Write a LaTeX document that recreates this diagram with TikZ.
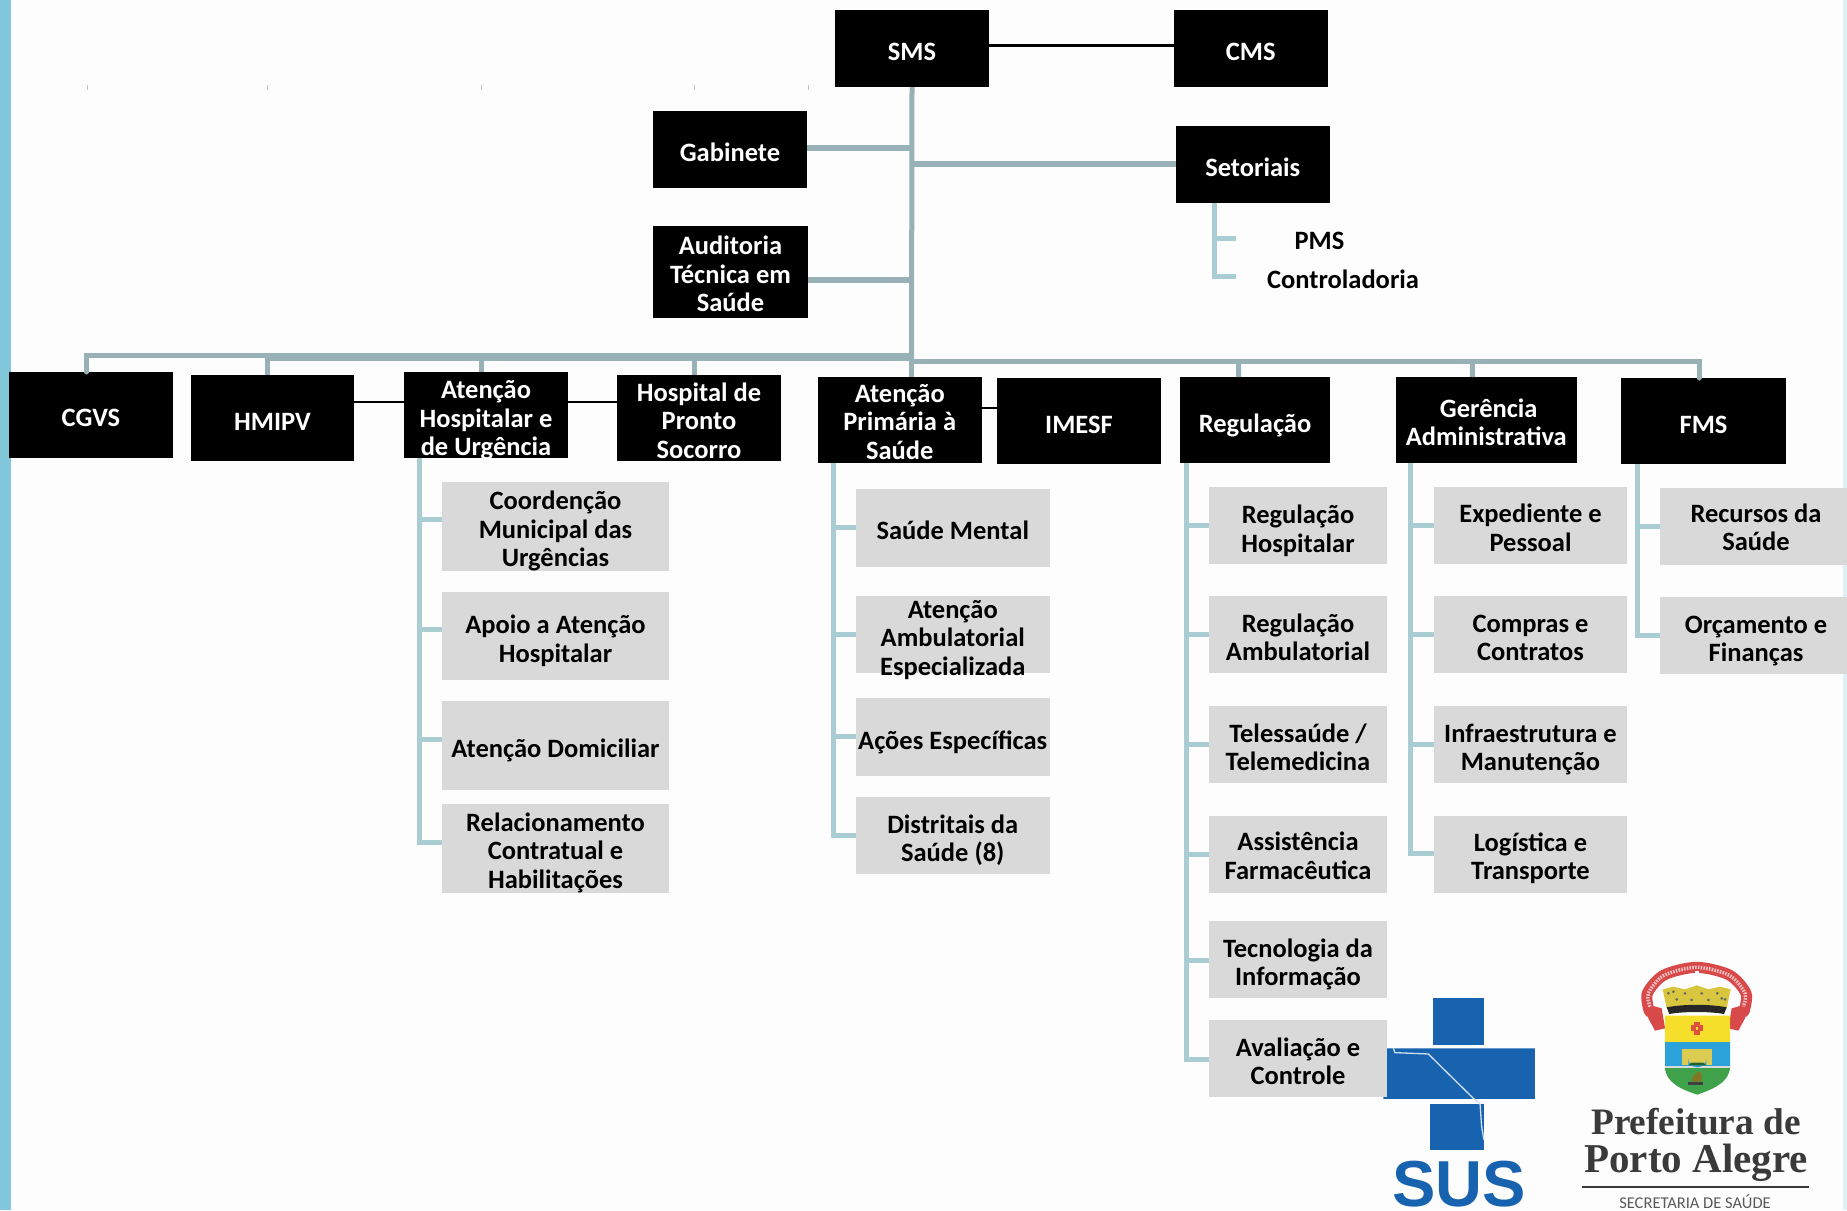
\documentclass[tikz,border=0pt]{standalone}
\usepackage{fontspec}
\setmainfont{Carlito}
\newfontfamily\logoserif{Liberation Serif}
\newfontfamily\logosans{Liberation Sans}
\definecolor{bgc}{HTML}{FDFDFD}
\definecolor{stripec}{HTML}{7FC7D9}
\definecolor{edgec}{HTML}{DDF0F3}
\definecolor{trunkc}{HTML}{97B1B6}
\definecolor{branchc}{HTML}{A9CDD3}
\definecolor{greyc}{HTML}{D9D9D9}
\definecolor{susc}{HTML}{1763B0}
\definecolor{crestred}{HTML}{D8494A}
\definecolor{crestgold}{HTML}{D9C63F}
\definecolor{crestyellow}{HTML}{F6DF2A}
\definecolor{crestblue}{HTML}{2BA3DA}
\definecolor{crestgreen}{HTML}{3FA24B}
\definecolor{logotext}{HTML}{3A3A3A}
\tikzset{
  boxbase/.style={rectangle,inner sep=0pt,outer sep=0pt,align=center,font=\fontsize{26.5}{28.5}\selectfont\bfseries},
  blackbox/.style={boxbase,fill=black,text=white},
  greybox/.style={boxbase,fill=greyc,text=black},
  plainlabel/.style={rectangle,inner sep=0pt,align=center,font=\fontsize{26.5}{28.5}\selectfont\bfseries,text=black},
  thinlink/.style={draw=black,line width=2.4pt},
  trunk/.style={draw=trunkc,line width=5pt},
  sidebar/.style={draw=trunkc,line width=6pt},
  heavybus/.style={draw=trunkc,line width=8pt},
  branch/.style={draw=branchc,line width=5pt},
}
% [text drop], style, name, x0, y0, x1, y1, text
\newcommand{\bx}[8][6]{\node[#2,minimum width={(#6-#4)*1pt},minimum height={(#7-#5)*1pt}] (#3) at ({(#4+#6)/2},{(#5+#7)/2}) {\raisebox{\dimexpr-#1pt-6.6pt\relax}[0pt][0pt]{\begin{tabular}{@{}c@{}}#8\end{tabular}}};}
\begin{document}
\begin{tikzpicture}[x=1pt,y=-1pt]
\useasboundingbox (0,0) rectangle (1847,1210);
\fill[bgc] (0,0) rectangle (1847,1210);
\fill[stripec] (0,0) rectangle (11,1210);
\fill[edgec] (1843,0) rectangle (1847,1210);
% stray ticks
\foreach \tx in {87,267,481,694,808} \draw[trunkc!70,line width=.9pt] (\tx,85) -- (\tx,90);

% SUS logo
\begin{scope}[shift={(1340,930)},x=.3333pt,y=-.3333pt]
  \fill[susc] (280,203) rectangle (432,345);
  \fill[susc] (140,355) -- (585,355) -- (585,507) -- (130,507) -- cycle;
  \fill[susc] (270,522) rectangle (432,660);
  \draw[white!80!susc,line width=1.3pt] (160,355) -- (165,368) -- (265,372) -- (400,505) -- (420,520) -- (425,590) -- (432,630);
  \node[text=susc,inner sep=0pt,font=\logosans\bfseries\fontsize{65}{65}\selectfont] (sus) at (358,762) {SUS};
\end{scope}

% City crest
\begin{scope}[shift={(1620,950)},x=.3333pt,y=-.3333pt]
  \fill[crestred] (72,160) -- (125,175) -- (135,235) -- (105,242) -- (85,205) -- cycle;
  \fill[crestred] (388,160) -- (335,175) -- (325,235) -- (355,242) -- (375,205) -- cycle;
  \draw[crestred,line width=11pt,line cap=round] plot[smooth] coordinates {(88,185) (82,130) (132,75) (230,52) (328,75) (378,130) (372,185)};
  \draw[white!65!crestred,line width=3.5pt,dash pattern=on 1.6pt off 1.2pt] plot[smooth] coordinates {(90,170) (85,130) (132,76) (230,52) (328,76) (375,130) (370,170)};
  \fill[white] (224,62) rectangle (238,112);
  \fill[crestgold] (128,118) -- (160,110) -- (195,118) -- (230,106) -- (265,118) -- (300,110) -- (332,118) -- (320,175) -- (140,175) -- cycle;
  \foreach \dx/\dy in {145/130,170/148,195/130,215/150,245/130,265/150,292/130,315/148,160/125,305/145}
    \fill[black!60] (\dx,\dy) circle[radius=4.5];
  \fill[black!85] (140,172) .. controls (190,162) and (270,162) .. (320,172) -- (312,192) .. controls (270,184) and (190,184) .. (148,192) -- cycle;
  \begin{scope}
    \clip (135,197) -- (330,197) -- (330,350) .. controls (330,400) and (270,420) .. (232,434) .. controls (190,420) and (135,400) .. (135,350) -- cycle;
    \fill[crestyellow] (130,190) rectangle (335,276);
    \fill[crestblue] (130,276) rectangle (335,350);
    \fill[crestgreen] (130,350) rectangle (335,440);
    \fill[white!85!black] (130,347) rectangle (335,353);
  \end{scope}
  \fill[crestred!85!orange] (223,216) rectangle (240,254);
  \fill[crestred!85!orange] (212,226) rectangle (250,244);
  \fill[crestyellow] (228,231) rectangle (235,239);
  \fill[crestgold!90!white] (186,296) rectangle (276,346);
  \fill[crestblue] (205,346) -- (205,325) arc[start angle=180,end angle=0,radius=27] -- (259,346) -- cycle;
  \fill[crestgreen!60!black] (205,346) -- (259,346) -- (250,338) -- (214,338) -- cycle;
  \fill[crestgold!60!black] (215,395) .. controls (215,375) and (230,368) .. (242,364) .. controls (246,375) and (246,385) .. (245,395) -- cycle;
  \fill[black!75] (205,395) rectangle (250,404);
\end{scope}
\node[inner sep=0pt,text=logotext,font=\logoserif\bfseries\fontsize{37.3}{37}\selectfont] (pref1) at (1696,1122) {Prefeitura de};
\node[inner sep=0pt,text=logotext,font=\logoserif\bfseries\fontsize{41}{41}\selectfont] (pref2) at (1696,1163) {Porto Alegre};
\draw[logotext,line width=1.2pt] (1582,1187) -- (1809,1187);
\node[inner sep=0pt,text=black!65,font=\fontsize{16.5}{17}\selectfont] (pref3) at (1695,1202) {SECRETARIA DE SAÚDE};

% Black boxes
\bx{blackbox}{sms}{835}{10}{989}{87}{SMS}
\bx{blackbox}{cms}{1174}{10}{1327.5}{87}{CMS}
\bx{blackbox}{set}{1176}{125.5}{1329.5}{202.5}{Setoriais}
\bx{blackbox}{gab}{653}{111}{807}{188}{Gabinete}
\bx[5]{blackbox}{aud}{653}{226}{808}{318}{Auditoria\\Técnica em\\Saúde}
\bx[5.5]{blackbox}{cgvs}{9}{372}{173}{458}{CGVS}
\bx[6.5]{blackbox}{hmipv}{191}{375}{354}{461}{HMIPV}
\bx{blackbox}{ahu}{404}{372}{568}{458}{Atenção\\Hospitalar e\\de Urgência}
\bx[5.5]{blackbox}{hps}{617}{375}{781}{461}{Hospital de\\Pronto\\Socorro}
\bx[4.5]{blackbox}{aps}{817.5}{377}{982}{463}{Atenção\\Primária à\\Saúde}
\bx{blackbox}{imesf}{997}{378}{1161}{464}{IMESF}
\bx{blackbox}{reg}{1180}{377}{1330}{463}{Regulação}
\bx[5.5]{blackbox}{ger}{1395.5}{377}{1577}{463}{\hspace*{5pt}Gerência\\Administrativa}
\bx{blackbox}{fms}{1621}{378}{1786}{464}{FMS}

% Grey boxes
\bx{greybox}{a1}{442}{482}{669}{570.5}{Coordenção\\Municipal das\\Urgências}
\bx{greybox}{a2}{442}{591.5}{669}{680}{Apoio a Atenção\\Hospitalar}
\bx{greybox}{a3}{442}{701}{669}{790}{Atenção Domiciliar}
\bx[5]{greybox}{a4}{442}{804}{669}{893}{Relacionamento\\Contratual e\\Habilitações}
\bx{greybox}{b1}{856}{489}{1049.5}{566.5}{Saúde Mental}
\bx{greybox}{b2}{856}{596}{1049.5}{673}{Atenção\\Ambulatorial\\Especializada}
\bx[7]{greybox}{b3}{856}{698}{1049.5}{775.5}{Ações Específicas}
\bx{greybox}{b4}{856}{797}{1049.5}{874}{Distritais da\\Saúde (8)}
\bx[7]{greybox}{c1}{1209}{486.5}{1387}{563.5}{Regulação\\Hospitalar}
\bx{greybox}{c2}{1209}{596}{1387}{673}{Regulação\\Ambulatorial}
\bx{greybox}{c3}{1209}{706}{1387}{783}{Telessaúde /\\Telemedicina}
\bx[4.5]{greybox}{c4}{1209}{816}{1387}{893}{Assistência\\Farmacêutica}
\bx{greybox}{c5}{1209}{921}{1387}{998}{Tecnologia da\\Informação}
\bx{greybox}{c6}{1209}{1020}{1387}{1097}{Avaliação e\\Controle}
\bx{greybox}{d1}{1434}{486.5}{1627}{563.5}{Expediente e\\Pessoal}
\bx{greybox}{d2}{1434}{596}{1627}{673}{Compras e\\Contratos}
\bx{greybox}{d3}{1434}{706}{1627}{783}{Infraestrutura e\\Manutenção}
\bx[5]{greybox}{d4}{1434}{816}{1627}{893}{Logística e\\Transporte}
\bx[4]{greybox}{e1}{1660}{487.5}{1852}{565}{Recursos da\\Saúde}
\bx{greybox}{e2}{1660}{597}{1852}{674}{Orçamento e\\Finanças}

% Plain labels
\node[plainlabel] (pms) at (1319.5,240.5) {PMS};
\node[plainlabel] (ctrl) at (1343,279) {Controladoria};
\coordinate (pmsend) at (1236,238);
\coordinate (ctrlend) at (1236,276);
\coordinate (busl) at (267,357);
\coordinate (busc) at (911.5,357);
\coordinate (busr) at (911.5,361.7);

% Thin black links
\draw[thinlink] ([yshift=3pt]sms.east) -- ([yshift=3pt]cms.west);
\draw[thinlink] ([yshift=16pt]hmipv.east) -- ([yshift=13pt]ahu.west);
\draw[thinlink] ([yshift=13pt]ahu.east) -- ([yshift=16pt]hps.west);
\draw[thinlink] ([yshift=12pt]aps.east) -- ([yshift=13pt]imesf.west);

% Trunk and buses
\draw[trunk] (sms.south) -- (busr);
\draw[sidebar] ([yshift=1.8pt]gab.east) -- ++(104.5,0);
\draw[sidebar] ([yshift=-8pt]aud.east) -- ++(103.5,0);
\draw[sidebar] ([yshift=0.5pt]set.west) -- ++(-264.5,0);
\draw[heavybus] (busl) -- (busc);
\draw[trunk,line cap=round] (busl) ++(0,-1.5) -- ++(-180.5,0) -- ([xshift=-4.5pt]cgvs.north);
\draw[trunk] (busl) -- ([xshift=-5.5pt]hmipv.north);
\draw[trunk] (busc -| ahu.north) ++(-5,0) -- ([xshift=-5pt]ahu.north);
\draw[trunk] (busc -| hps.north) ++(-5,0) -- ([xshift=-5pt]hps.north);
\draw[trunk] (busr) -- ([xshift=11.75pt]aps.north);
\draw[trunk,line cap=round] (busr) -- ++(787.5,0) -- ([xshift=-4.5pt]fms.north);
\draw[trunk] (busr) ++(327,0) -- ([xshift=-16.3pt]reg.north);
\draw[trunk] (busr) ++(561,0) -- ([xshift=-14pt]ger.north);

% Setoriais sub items
\draw[branch] ([xshift=-38pt]set.south) |- (pmsend);
\draw[branch] ([xshift=-38pt]set.south) |- (ctrlend);

% Branches: parent -> children
\foreach \child/\dy in {a1/6.5,a2/6,a3/6.5,a4/6.5}
  \draw[branch] ([xshift=15.5pt]ahu.south west) |- ([yshift=\dy pt]\child.west);
\foreach \child/\dy in {b1/0,b2/.5,b3/0,b4/.5}
  \draw[branch] ([xshift=16pt]aps.south west) |- ([yshift=\dy pt]\child.west);
\foreach \child/\dy in {c1/0,c2/.5,c3/.5,c4/.5,c5/-.5,c6/-.5}
  \draw[branch] ([xshift=6pt]reg.south west) |- ([yshift=\dy pt]\child.west);
\foreach \child/\dy in {d1/0,d2/0,d3/.5,d4/1.5}
  \draw[branch] ([xshift=15pt]ger.south west) |- ([yshift=\dy pt]\child.west);
\foreach \child/\dy in {e1/0,e2/.5}
  \draw[branch] ([xshift=16pt]fms.south west) |- ([yshift=\dy pt]\child.west);
\end{tikzpicture}
\end{document}
